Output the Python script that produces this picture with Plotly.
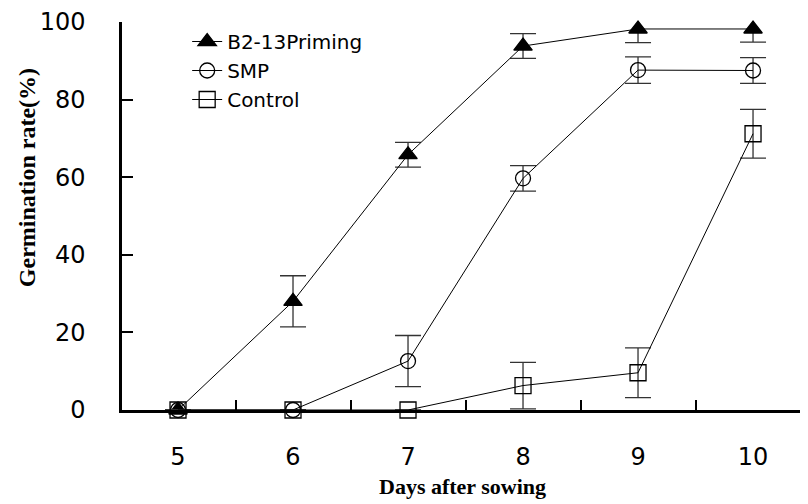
import plotly.graph_objects as go

days = [5, 6, 7, 8, 9, 10]
b2_13 = [0, 28.0, 65.8, 93.8, 98.2, 98.2]
b2_13_err = [0, 6.6, 3.2, 3.2, 3.5, 3.4]
smp = [0, 0, 12.6, 59.7, 87.6, 87.5]
smp_err = [0, 0, 6.6, 3.3, 3.4, 3.3]
control = [0, 0, 0, 6.3, 9.6, 71.2]
control_err = [0, 0, 0, 6.0, 6.4, 6.3]
x_ticks = [5, 6, 7, 8, 9, 10]
x_minor = [5.5, 6.5, 7.5, 8.5, 9.5]
y_ticks = [0, 20, 40, 60, 80, 100]

fig = go.Figure()

def add(name, y, err, symbol, size):
    fig.add_trace(go.Scatter(
        x=days, y=y, name=name, mode="lines+markers",
        line=dict(color="black", width=1),
        marker=dict(symbol=symbol, size=size, color="black",
                    line=dict(color="black", width=1.3)),
        error_y=dict(type="data", array=err, visible=True,
                     color="#333333", thickness=1.3, width=13),
        cliponaxis=False,
    ))

add("B2-13Priming", b2_13, b2_13_err, "triangle-up", 16)
add("SMP", smp, smp_err, "circle-open", 15)
add("Control", control, control_err, "square-open", 16)

# page has an 8px body margin, so the figure is 800x496 and margins compensate
fig.update_layout(
    width=800, height=496,
    margin=dict(l=114, r=0, t=14, b=94),
    paper_bgcolor="white", plot_bgcolor="white",
    font=dict(family="DejaVu Sans", color="black"),
    showlegend=True,
    legend=dict(x=0.095, y=1.0, xanchor="left", yanchor="top",
                font=dict(size=20, family="DejaVu Sans"),
                bgcolor="rgba(0,0,0,0)", tracegroupgap=0, itemwidth=30),
    xaxis=dict(
        range=[4.513, 10.478], tickmode="array", tickvals=x_ticks,
        ticktext=[str(v) for v in x_ticks], ticks="",
        tickfont=dict(size=24, family="DejaVu Sans"),
        ticklabelstandoff=23,
        showline=True, linecolor="black", linewidth=2.5,
        showgrid=False, zeroline=False,
        minor=dict(tickvals=x_minor, ticks="inside", ticklen=10,
                   tickwidth=2, tickcolor="black", showgrid=False),
    ),
    yaxis=dict(
        range=[0, 100], tickmode="array", tickvals=y_ticks,
        ticks="inside", ticklen=11, tickwidth=2, tickcolor="black",
        tickfont=dict(size=24, family="DejaVu Sans"),
        ticklabelstandoff=29,
        showline=True, linecolor="black", linewidth=2.5,
        showgrid=False, zeroline=False,
    ),
    annotations=[
        dict(text="<b>Days after sowing</b>", xref="paper", yref="paper",
             x=0.497, y=-0.198, xanchor="center", yanchor="middle",
             showarrow=False, font=dict(size=22, family="Liberation Serif")),
        dict(text="<b>Germination rate(%)</b>", xref="paper", yref="paper",
             x=-0.1385, y=0.6, xanchor="center", yanchor="middle",
             textangle=-90, showarrow=False,
             font=dict(size=24, family="Liberation Serif")),
    ],
)

fig.write_html("out.html")
